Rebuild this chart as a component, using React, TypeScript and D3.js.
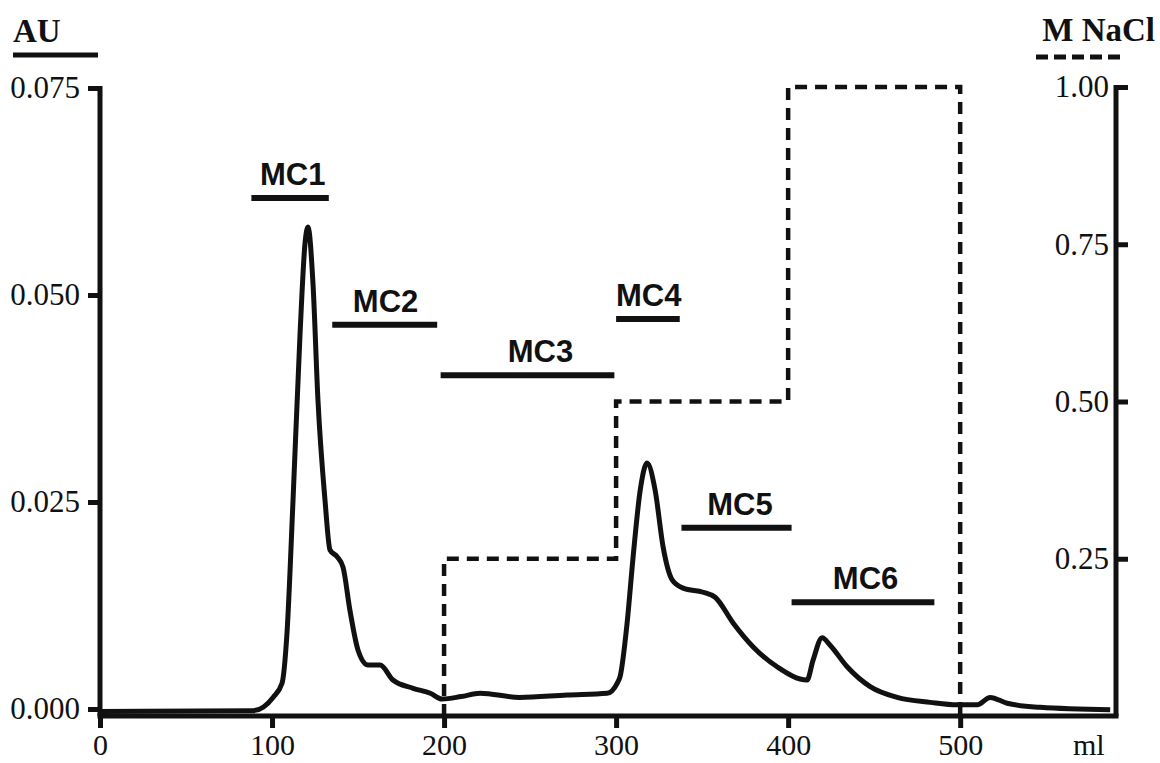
import React, { useEffect, useRef } from 'react';
import * as d3 from 'd3';

// UV absorbance trace (ml, AU)
const volumeMl = [0, 89, 100.6, 105.8, 108.7, 112.2, 116.3, 119.2, 120.9, 123.8, 126.7, 130.8, 133.7, 137.8, 141.3, 145.3, 150, 155.8, 162.8, 170.3, 182, 192, 198.8, 210, 220.9, 244, 271.5, 294.8, 300.6, 302.3, 306.4, 309.9, 314, 318, 322.7, 327.3, 332.6, 339, 350.6, 357.6, 368, 379.7, 393.6, 411, 414.5, 419.8, 424.4, 434.3, 447.7, 463.4, 482.6, 498.3, 509.9, 517.4, 527.3, 546.5, 587.2];
const absorbance = [-0.0003, -0.0002, 0.0014, 0.0031, 0.0092, 0.0252, 0.0454, 0.0563, 0.0582, 0.0514, 0.0373, 0.0252, 0.0192, 0.0184, 0.0171, 0.0119, 0.0071, 0.0053, 0.0053, 0.0035, 0.0025, 0.0019, 0.0012, 0.0015, 0.0019, 0.0014, 0.0017, 0.0019, 0.0031, 0.0039, 0.0104, 0.0184, 0.0264, 0.0297, 0.0264, 0.0196, 0.0156, 0.0146, 0.0141, 0.0135, 0.0104, 0.0075, 0.0051, 0.0035, 0.0059, 0.0086, 0.0077, 0.0051, 0.0027, 0.0014, 0.0008, 0.0005, 0.0005, 0.0014, 0.0007, 0.0002, -0.0001];

// NaCl step gradient (ml, M)
const naclMl = [200, 200, 300, 300, 400, 400, 500, 500];
const naclM = [0, 0.25, 0.25, 0.5, 0.5, 1, 1, 0];

// pooled fractions
const fractionNames = ['MC1', 'MC2', 'MC3', 'MC4', 'MC5', 'MC6'];
const fractionStart = [88, 135, 198, 300, 338, 402];
const fractionEnd = [133, 196, 299, 337, 402, 485];
const fractionLevel = [0.0617, 0.0464, 0.0403, 0.0471, 0.0219, 0.0129];
const fractionLabelMl = [112, 166, 256, 319, 372, 445];

const auTicks = [0, 0.025, 0.05, 0.075];
const naclTicks = [0.25, 0.5, 0.75, 1.0];
const mlTicks = [0, 100, 200, 300, 400, 500];

const serif = '"Liberation Serif", "Times New Roman", serif';
const sans = '"Liberation Sans", Arial, sans-serif';

const App = () => {
  const svgRef = useRef<SVGSVGElement>(null);

  useEffect(() => {
    const svg = d3.select(svgRef.current);
    svg.selectAll('*').remove();

    const x = d3.scaleLinear().domain([0, 590]).range([100, 1115]);
    const yAU = d3.scaleLinear().domain([0, 0.075]).range([709, 88]);
    const yNaCl = d3.scaleLinear().domain([0, 1]).range([716, 87]);
    const baseY = 716;

    // NaCl dashed steps
    const naclLine = d3.line<number>()
      .x((d, i) => x(naclMl[i]))
      .y(d => yNaCl(d));
    svg.append('path')
      .datum(naclM)
      .attr('fill', 'none')
      .attr('stroke', '#111')
      .attr('stroke-width', 4.5)
      .attr('stroke-dasharray', '12,8')
      .attr('d', naclLine);

    // absorbance trace
    const auLine = d3.line<number>()
      .x((d, i) => x(volumeMl[i]))
      .y(d => yAU(d))
      .curve(d3.curveMonotoneX);
    svg.append('path')
      .datum(absorbance)
      .attr('fill', 'none')
      .attr('stroke', '#111')
      .attr('stroke-width', 5)
      .attr('stroke-linejoin', 'round')
      .attr('d', auLine);

    // fraction bars + labels
    fractionNames.forEach((name, i) => {
      const yy = yAU(fractionLevel[i]);
      svg.append('line')
        .attr('x1', x(fractionStart[i]))
        .attr('x2', x(fractionEnd[i]))
        .attr('y1', yy)
        .attr('y2', yy)
        .attr('stroke', '#111')
        .attr('stroke-width', 6);
      svg.append('text')
        .attr('x', x(fractionLabelMl[i]))
        .attr('y', yy - 13)
        .attr('text-anchor', 'middle')
        .style('font-family', sans)
        .style('font-weight', 'bold')
        .style('font-size', '31px')
        .style('fill', '#111')
        .text(name);
    });

    // axes
    const left = svg.append('g')
      .attr('transform', 'translate(100,0)')
      .call(d3.axisLeft(yAU).tickValues(auTicks).tickFormat(d3.format('.3f')).tickSize(12).tickPadding(8));
    const right = svg.append('g')
      .attr('transform', 'translate(1116,0)')
      .call(d3.axisRight(yNaCl).tickValues(naclTicks).tickFormat(d3.format('.2f')).tickSize(12));
    const bottom = svg.append('g')
      .attr('transform', `translate(0,${baseY})`)
      .call(d3.axisBottom(x).tickValues(mlTicks).tickFormat(d3.format('d')).tickSize(12));

    [left, right, bottom].forEach(g => {
      g.select('.domain').remove();
      g.selectAll('.tick line').attr('stroke', '#111').attr('stroke-width', 5);
      g.selectAll('.tick text')
        .style('font-family', serif)
        .style('font-size', '31px')
        .style('fill', '#111');
    });
    right.selectAll('.tick text').attr('x', -7).attr('text-anchor', 'end');
    bottom.selectAll('.tick text').attr('y', 39).attr('dy', 0).style('font-size', '30px');

    // axis lines
    svg.append('line').attr('x1', 100).attr('x2', 100).attr('y1', 86).attr('y2', baseY)
      .attr('stroke', '#111').attr('stroke-width', 5);
    svg.append('line').attr('x1', 1116).attr('x2', 1116).attr('y1', 85).attr('y2', baseY)
      .attr('stroke', '#111').attr('stroke-width', 5);
    svg.append('line').attr('x1', 97.5).attr('x2', 1118.5).attr('y1', baseY).attr('y2', baseY)
      .attr('stroke', '#111').attr('stroke-width', 5);

    // axis titles
    svg.append('text').attr('x', 13).attr('y', 42)
      .style('font-family', serif).style('font-weight', 'bold').style('font-size', '33px').style('fill', '#111')
      .text('AU');
    svg.append('line').attr('x1', 13).attr('x2', 98).attr('y1', 55).attr('y2', 55)
      .attr('stroke', '#111').attr('stroke-width', 5);

    svg.append('text').attr('x', 1155).attr('y', 41).attr('text-anchor', 'end')
      .style('font-family', serif).style('font-weight', 'bold').style('font-size', '33px').style('fill', '#111')
      .text('M NaCl');
    svg.append('line').attr('x1', 1036).attr('x2', 1124).attr('y1', 57).attr('y2', 57)
      .attr('stroke', '#111').attr('stroke-width', 5).attr('stroke-dasharray', '12,6');

    svg.append('text').attr('x', 1073).attr('y', 755)
      .style('font-family', serif).style('font-size', '30px').style('fill', '#111')
      .text('ml');
  }, []);

  return (
    <svg
      ref={svgRef}
      width={1160}
      height={763}
      style={{ position: 'absolute', left: 0, top: 0, background: '#fff' }}
    />
  );
};

export default App;
